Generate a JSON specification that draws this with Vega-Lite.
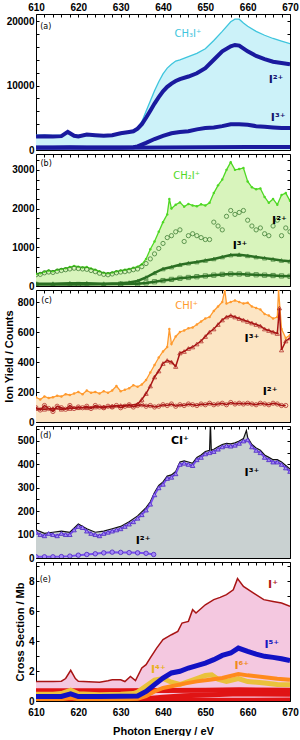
{
"$schema": "https://vega.github.io/schema/vega-lite/v6.json",
"autosize": {"type": "pad"},
"padding": {"left": 3, "top": 2, "right": 0, "bottom": 0},
"background": "#ffffff",
"config": {
  "view": {"stroke": null},
  "axis": {"domainColor": "#000", "tickColor": "#000", "tickSize": -3, "labelPadding": 5, "labelFont": "Liberation Sans", "labelFontWeight": "bold", "labelFontSize": 10, "labelColor": "#000", "titleFont": "Liberation Sans", "titleFontWeight": "bold", "titleFontSize": 11, "titleColor": "#000", "grid": false, "zindex": 1}
},
"datasets": {
  "a": [
    {"s":"CH3I+","x":610,"y":2300},{"s":"CH3I+","x":612,"y":2300},{"s":"CH3I+","x":614,"y":2250},{"s":"CH3I+","x":616,"y":2300},{"s":"CH3I+","x":617.5,"y":2950},{"s":"CH3I+","x":619,"y":2300},{"s":"CH3I+","x":620,"y":2250},{"s":"CH3I+","x":622,"y":2500},{"s":"CH3I+","x":624,"y":2400},{"s":"CH3I+","x":626,"y":2300},{"s":"CH3I+","x":628,"y":2400},{"s":"CH3I+","x":630,"y":2700},{"s":"CH3I+","x":632,"y":2900},{"s":"CH3I+","x":633,"y":3100},{"s":"CH3I+","x":634,"y":3500},{"s":"CH3I+","x":635,"y":4400},{"s":"CH3I+","x":636,"y":6000},{"s":"CH3I+","x":637,"y":7600},{"s":"CH3I+","x":638,"y":9200},{"s":"CH3I+","x":639,"y":10600},{"s":"CH3I+","x":640,"y":11800},{"s":"CH3I+","x":641,"y":12700},{"s":"CH3I+","x":642,"y":13300},{"s":"CH3I+","x":643,"y":13800},{"s":"CH3I+","x":644,"y":14000},{"s":"CH3I+","x":646,"y":14500},{"s":"CH3I+","x":648,"y":15000},{"s":"CH3I+","x":650,"y":15700},{"s":"CH3I+","x":652,"y":17000},{"s":"CH3I+","x":654,"y":18400},{"s":"CH3I+","x":656,"y":19900},{"s":"CH3I+","x":657,"y":20300},{"s":"CH3I+","x":658,"y":20300},{"s":"CH3I+","x":659,"y":19700},{"s":"CH3I+","x":660,"y":19200},{"s":"CH3I+","x":662,"y":18400},{"s":"CH3I+","x":664,"y":17800},{"s":"CH3I+","x":666,"y":17300},{"s":"CH3I+","x":668,"y":16900},{"s":"CH3I+","x":670,"y":16500},
    {"s":"I2+","x":610,"y":2100},{"s":"I2+","x":612,"y":2150},{"s":"I2+","x":614,"y":2100},{"s":"I2+","x":616,"y":2150},{"s":"I2+","x":617.5,"y":2800},{"s":"I2+","x":619,"y":2200},{"s":"I2+","x":620,"y":2100},{"s":"I2+","x":622,"y":2400},{"s":"I2+","x":624,"y":2300},{"s":"I2+","x":626,"y":2200},{"s":"I2+","x":628,"y":2300},{"s":"I2+","x":630,"y":2600},{"s":"I2+","x":632,"y":2800},{"s":"I2+","x":633,"y":2900},{"s":"I2+","x":634,"y":3300},{"s":"I2+","x":635,"y":4000},{"s":"I2+","x":636,"y":5000},{"s":"I2+","x":637,"y":6100},{"s":"I2+","x":638,"y":7200},{"s":"I2+","x":639,"y":8200},{"s":"I2+","x":640,"y":9100},{"s":"I2+","x":641,"y":9800},{"s":"I2+","x":642,"y":10300},{"s":"I2+","x":643,"y":10700},{"s":"I2+","x":644,"y":11000},{"s":"I2+","x":646,"y":11400},{"s":"I2+","x":648,"y":11900},{"s":"I2+","x":650,"y":12700},{"s":"I2+","x":652,"y":14000},{"s":"I2+","x":654,"y":15300},{"s":"I2+","x":656,"y":16100},{"s":"I2+","x":657,"y":16300},{"s":"I2+","x":658,"y":16200},{"s":"I2+","x":660,"y":15300},{"s":"I2+","x":662,"y":14600},{"s":"I2+","x":664,"y":14100},{"s":"I2+","x":666,"y":13700},{"s":"I2+","x":668,"y":13500},{"s":"I2+","x":670,"y":13300},
    {"s":"I3+","x":610,"y":400},{"s":"I3+","x":614,"y":400},{"s":"I3+","x":618,"y":420},{"s":"I3+","x":622,"y":400},{"s":"I3+","x":626,"y":400},{"s":"I3+","x":630,"y":400},{"s":"I3+","x":633,"y":420},{"s":"I3+","x":634,"y":550},{"s":"I3+","x":636,"y":1100},{"s":"I3+","x":638,"y":1700},{"s":"I3+","x":640,"y":2200},{"s":"I3+","x":642,"y":2600},{"s":"I3+","x":644,"y":2800},{"s":"I3+","x":646,"y":2900},{"s":"I3+","x":648,"y":3200},{"s":"I3+","x":650,"y":3400},{"s":"I3+","x":652,"y":3500},{"s":"I3+","x":654,"y":3700},{"s":"I3+","x":656,"y":4000},{"s":"I3+","x":658,"y":4000},{"s":"I3+","x":660,"y":3900},{"s":"I3+","x":662,"y":3700},{"s":"I3+","x":664,"y":3600},{"s":"I3+","x":666,"y":3500},{"s":"I3+","x":668,"y":3400},{"s":"I3+","x":670,"y":3400},
    {"s":"I4+","x":610,"y":350},{"s":"I4+","x":630,"y":350},{"s":"I4+","x":640,"y":380},{"s":"I4+","x":650,"y":420},{"s":"I4+","x":660,"y":450},{"s":"I4+","x":670,"y":450}
  ],
  "b": [
    {"s":"CH2I+","x":610,"y":310},{"s":"CH2I+","x":611,"y":330},{"s":"CH2I+","x":612,"y":370},{"s":"CH2I+","x":613,"y":400},{"s":"CH2I+","x":614,"y":380},{"s":"CH2I+","x":615,"y":420},{"s":"CH2I+","x":616,"y":440},{"s":"CH2I+","x":617,"y":460},{"s":"CH2I+","x":618,"y":490},{"s":"CH2I+","x":619,"y":520},{"s":"CH2I+","x":620,"y":500},{"s":"CH2I+","x":621,"y":480},{"s":"CH2I+","x":622,"y":490},{"s":"CH2I+","x":623,"y":450},{"s":"CH2I+","x":624,"y":420},{"s":"CH2I+","x":625,"y":380},{"s":"CH2I+","x":626,"y":340},{"s":"CH2I+","x":627,"y":330},{"s":"CH2I+","x":628,"y":350},{"s":"CH2I+","x":629,"y":380},{"s":"CH2I+","x":630,"y":400},{"s":"CH2I+","x":631,"y":420},{"s":"CH2I+","x":632,"y":440},{"s":"CH2I+","x":633,"y":470},{"s":"CH2I+","x":634,"y":500},{"s":"CH2I+","x":635,"y":560},{"s":"CH2I+","x":636,"y":700},{"s":"CH2I+","x":637,"y":950},{"s":"CH2I+","x":638,"y":1150},{"s":"CH2I+","x":639,"y":1400},{"s":"CH2I+","x":640,"y":1650},{"s":"CH2I+","x":641,"y":1850},{"s":"CH2I+","x":641.5,"y":2250},{"s":"CH2I+","x":642,"y":2000},{"s":"CH2I+","x":643,"y":2100},{"s":"CH2I+","x":644,"y":2160},{"s":"CH2I+","x":645,"y":2050},{"s":"CH2I+","x":646,"y":2120},{"s":"CH2I+","x":647,"y":2080},{"s":"CH2I+","x":648,"y":2060},{"s":"CH2I+","x":649,"y":2110},{"s":"CH2I+","x":650,"y":2080},{"s":"CH2I+","x":651,"y":2150},{"s":"CH2I+","x":652,"y":2400},{"s":"CH2I+","x":653,"y":2600},{"s":"CH2I+","x":654,"y":2750},{"s":"CH2I+","x":655,"y":3000},{"s":"CH2I+","x":656,"y":3200},{"s":"CH2I+","x":657,"y":3000},{"s":"CH2I+","x":658,"y":3020},{"s":"CH2I+","x":659,"y":3050},{"s":"CH2I+","x":660,"y":2700},{"s":"CH2I+","x":661,"y":2550},{"s":"CH2I+","x":662,"y":2500},{"s":"CH2I+","x":663,"y":2520},{"s":"CH2I+","x":664,"y":2300},{"s":"CH2I+","x":665,"y":2150},{"s":"CH2I+","x":666,"y":2250},{"s":"CH2I+","x":667,"y":2100},{"s":"CH2I+","x":668,"y":2350},{"s":"CH2I+","x":669,"y":2400},{"s":"CH2I+","x":670,"y":2200},
    {"s":"I2+","x":610,"y":290},{"s":"I2+","x":611,"y":300},{"s":"I2+","x":612,"y":340},{"s":"I2+","x":613,"y":360},{"s":"I2+","x":614,"y":350},{"s":"I2+","x":615,"y":380},{"s":"I2+","x":616,"y":400},{"s":"I2+","x":617,"y":420},{"s":"I2+","x":618,"y":440},{"s":"I2+","x":619,"y":460},{"s":"I2+","x":620,"y":450},{"s":"I2+","x":621,"y":440},{"s":"I2+","x":622,"y":430},{"s":"I2+","x":623,"y":400},{"s":"I2+","x":624,"y":370},{"s":"I2+","x":625,"y":330},{"s":"I2+","x":626,"y":300},{"s":"I2+","x":627,"y":290},{"s":"I2+","x":628,"y":310},{"s":"I2+","x":629,"y":340},{"s":"I2+","x":630,"y":360},{"s":"I2+","x":631,"y":370},{"s":"I2+","x":632,"y":390},{"s":"I2+","x":633,"y":420},{"s":"I2+","x":634,"y":440},{"s":"I2+","x":635,"y":500},{"s":"I2+","x":636,"y":580},{"s":"I2+","x":637,"y":700},{"s":"I2+","x":638,"y":830},{"s":"I2+","x":639,"y":970},{"s":"I2+","x":640,"y":1100},{"s":"I2+","x":641,"y":1250},{"s":"I2+","x":642,"y":1300},{"s":"I2+","x":643,"y":1400},{"s":"I2+","x":644,"y":1450},{"s":"I2+","x":645,"y":1150},{"s":"I2+","x":646,"y":1300},{"s":"I2+","x":647,"y":1350},{"s":"I2+","x":648,"y":1300},{"s":"I2+","x":649,"y":1250},{"s":"I2+","x":650,"y":1200},{"s":"I2+","x":651,"y":1200},{"s":"I2+","x":652,"y":1650},{"s":"I2+","x":653,"y":1550},{"s":"I2+","x":654,"y":1450},{"s":"I2+","x":655,"y":1800},{"s":"I2+","x":656,"y":1950},{"s":"I2+","x":657,"y":1850},{"s":"I2+","x":658,"y":1900},{"s":"I2+","x":659,"y":1950},{"s":"I2+","x":660,"y":1700},{"s":"I2+","x":661,"y":1550},{"s":"I2+","x":662,"y":1450},{"s":"I2+","x":663,"y":1500},{"s":"I2+","x":664,"y":1350},{"s":"I2+","x":665,"y":1300},{"s":"I2+","x":666,"y":1550},{"s":"I2+","x":667,"y":1700},{"s":"I2+","x":668,"y":1300},{"s":"I2+","x":669,"y":1500},{"s":"I2+","x":670,"y":1400},
    {"s":"I3+","x":610,"y":60},{"s":"I3+","x":614,"y":60},{"s":"I3+","x":618,"y":70},{"s":"I3+","x":622,"y":70},{"s":"I3+","x":626,"y":60},{"s":"I3+","x":630,"y":70},{"s":"I3+","x":632,"y":90},{"s":"I3+","x":634,"y":130},{"s":"I3+","x":636,"y":220},{"s":"I3+","x":638,"y":340},{"s":"I3+","x":640,"y":440},{"s":"I3+","x":642,"y":490},{"s":"I3+","x":644,"y":550},{"s":"I3+","x":646,"y":590},{"s":"I3+","x":648,"y":620},{"s":"I3+","x":650,"y":660},{"s":"I3+","x":652,"y":700},{"s":"I3+","x":654,"y":750},{"s":"I3+","x":656,"y":800},{"s":"I3+","x":658,"y":810},{"s":"I3+","x":660,"y":780},{"s":"I3+","x":662,"y":750},{"s":"I3+","x":664,"y":720},{"s":"I3+","x":666,"y":690},{"s":"I3+","x":668,"y":660},{"s":"I3+","x":670,"y":640},
    {"s":"I4+","x":610,"y":40},{"s":"I4+","x":620,"y":40},{"s":"I4+","x":630,"y":50},{"s":"I4+","x":634,"y":60},{"s":"I4+","x":636,"y":80},{"s":"I4+","x":638,"y":110},{"s":"I4+","x":640,"y":140},{"s":"I4+","x":642,"y":170},{"s":"I4+","x":644,"y":200},{"s":"I4+","x":646,"y":220},{"s":"I4+","x":648,"y":240},{"s":"I4+","x":650,"y":260},{"s":"I4+","x":652,"y":280},{"s":"I4+","x":654,"y":300},{"s":"I4+","x":656,"y":310},{"s":"I4+","x":658,"y":310},{"s":"I4+","x":660,"y":300},{"s":"I4+","x":662,"y":290},{"s":"I4+","x":664,"y":280},{"s":"I4+","x":666,"y":270},{"s":"I4+","x":668,"y":260},{"s":"I4+","x":670,"y":250}
  ],
  "c": [
    {"s":"CHI+","x":610,"y":165},{"s":"CHI+","x":611,"y":150},{"s":"CHI+","x":612,"y":170},{"s":"CHI+","x":613,"y":160},{"s":"CHI+","x":614,"y":165},{"s":"CHI+","x":615,"y":175},{"s":"CHI+","x":616,"y":170},{"s":"CHI+","x":617,"y":185},{"s":"CHI+","x":618,"y":180},{"s":"CHI+","x":619,"y":190},{"s":"CHI+","x":620,"y":200},{"s":"CHI+","x":621,"y":185},{"s":"CHI+","x":622,"y":210},{"s":"CHI+","x":623,"y":195},{"s":"CHI+","x":624,"y":200},{"s":"CHI+","x":625,"y":190},{"s":"CHI+","x":626,"y":205},{"s":"CHI+","x":627,"y":195},{"s":"CHI+","x":628,"y":210},{"s":"CHI+","x":629,"y":240},{"s":"CHI+","x":630,"y":205},{"s":"CHI+","x":631,"y":215},{"s":"CHI+","x":632,"y":225},{"s":"CHI+","x":633,"y":245},{"s":"CHI+","x":634,"y":235},{"s":"CHI+","x":635,"y":250},{"s":"CHI+","x":636,"y":280},{"s":"CHI+","x":637,"y":330},{"s":"CHI+","x":638,"y":380},{"s":"CHI+","x":639,"y":430},{"s":"CHI+","x":640,"y":470},{"s":"CHI+","x":641,"y":500},{"s":"CHI+","x":641.5,"y":620},{"s":"CHI+","x":642,"y":520},{"s":"CHI+","x":643,"y":570},{"s":"CHI+","x":644,"y":600},{"s":"CHI+","x":645,"y":610},{"s":"CHI+","x":646,"y":625},{"s":"CHI+","x":647,"y":630},{"s":"CHI+","x":648,"y":650},{"s":"CHI+","x":649,"y":670},{"s":"CHI+","x":650,"y":690},{"s":"CHI+","x":651,"y":700},{"s":"CHI+","x":652,"y":740},{"s":"CHI+","x":653,"y":770},{"s":"CHI+","x":654,"y":800},{"s":"CHI+","x":654.6,"y":880},{"s":"CHI+","x":655,"y":790},{"s":"CHI+","x":656,"y":800},{"s":"CHI+","x":657,"y":810},{"s":"CHI+","x":658,"y":800},{"s":"CHI+","x":659,"y":790},{"s":"CHI+","x":660,"y":795},{"s":"CHI+","x":661,"y":770},{"s":"CHI+","x":662,"y":760},{"s":"CHI+","x":663,"y":750},{"s":"CHI+","x":664,"y":720},{"s":"CHI+","x":665,"y":710},{"s":"CHI+","x":666,"y":690},{"s":"CHI+","x":667,"y":700},{"s":"CHI+","x":667.3,"y":880},{"s":"CHI+","x":668,"y":620},{"s":"CHI+","x":669,"y":560},{"s":"CHI+","x":670,"y":580},
    {"s":"I3+","x":610,"y":90},{"s":"I3+","x":612,"y":85},{"s":"I3+","x":614,"y":90},{"s":"I3+","x":616,"y":85},{"s":"I3+","x":618,"y":90},{"s":"I3+","x":620,"y":95},{"s":"I3+","x":622,"y":95},{"s":"I3+","x":624,"y":100},{"s":"I3+","x":626,"y":100},{"s":"I3+","x":628,"y":105},{"s":"I3+","x":630,"y":110},{"s":"I3+","x":632,"y":110},{"s":"I3+","x":634,"y":120},{"s":"I3+","x":635,"y":150},{"s":"I3+","x":636,"y":190},{"s":"I3+","x":637,"y":240},{"s":"I3+","x":638,"y":300},{"s":"I3+","x":639,"y":340},{"s":"I3+","x":640,"y":390},{"s":"I3+","x":641,"y":410},{"s":"I3+","x":642,"y":400},{"s":"I3+","x":643,"y":370},{"s":"I3+","x":644,"y":460},{"s":"I3+","x":645,"y":470},{"s":"I3+","x":646,"y":490},{"s":"I3+","x":647,"y":500},{"s":"I3+","x":648,"y":520},{"s":"I3+","x":649,"y":540},{"s":"I3+","x":650,"y":570},{"s":"I3+","x":651,"y":600},{"s":"I3+","x":652,"y":620},{"s":"I3+","x":653,"y":650},{"s":"I3+","x":654,"y":680},{"s":"I3+","x":655,"y":700},{"s":"I3+","x":656,"y":710},{"s":"I3+","x":657,"y":700},{"s":"I3+","x":658,"y":690},{"s":"I3+","x":659,"y":680},{"s":"I3+","x":660,"y":670},{"s":"I3+","x":661,"y":660},{"s":"I3+","x":662,"y":650},{"s":"I3+","x":663,"y":640},{"s":"I3+","x":664,"y":620},{"s":"I3+","x":665,"y":610},{"s":"I3+","x":666,"y":600},{"s":"I3+","x":667,"y":590},{"s":"I3+","x":667.5,"y":760},{"s":"I3+","x":668,"y":480},{"s":"I3+","x":669,"y":540},{"s":"I3+","x":670,"y":560},
    {"s":"I2+","x":610,"y":95},{"s":"I2+","x":611,"y":80},{"s":"I2+","x":612,"y":110},{"s":"I2+","x":613,"y":90},{"s":"I2+","x":614,"y":70},{"s":"I2+","x":615,"y":105},{"s":"I2+","x":616,"y":95},{"s":"I2+","x":617,"y":85},{"s":"I2+","x":618,"y":110},{"s":"I2+","x":619,"y":90},{"s":"I2+","x":620,"y":100},{"s":"I2+","x":621,"y":95},{"s":"I2+","x":622,"y":105},{"s":"I2+","x":623,"y":90},{"s":"I2+","x":624,"y":110},{"s":"I2+","x":625,"y":100},{"s":"I2+","x":626,"y":95},{"s":"I2+","x":627,"y":105},{"s":"I2+","x":628,"y":100},{"s":"I2+","x":629,"y":110},{"s":"I2+","x":630,"y":95},{"s":"I2+","x":631,"y":105},{"s":"I2+","x":632,"y":115},{"s":"I2+","x":633,"y":100},{"s":"I2+","x":634,"y":110},{"s":"I2+","x":635,"y":115},{"s":"I2+","x":636,"y":105},{"s":"I2+","x":637,"y":110},{"s":"I2+","x":638,"y":100},{"s":"I2+","x":639,"y":105},{"s":"I2+","x":640,"y":115},{"s":"I2+","x":641,"y":110},{"s":"I2+","x":642,"y":120},{"s":"I2+","x":643,"y":105},{"s":"I2+","x":644,"y":115},{"s":"I2+","x":645,"y":110},{"s":"I2+","x":646,"y":120},{"s":"I2+","x":647,"y":115},{"s":"I2+","x":648,"y":110},{"s":"I2+","x":649,"y":120},{"s":"I2+","x":650,"y":115},{"s":"I2+","x":651,"y":125},{"s":"I2+","x":652,"y":115},{"s":"I2+","x":653,"y":120},{"s":"I2+","x":654,"y":125},{"s":"I2+","x":655,"y":115},{"s":"I2+","x":656,"y":130},{"s":"I2+","x":657,"y":120},{"s":"I2+","x":658,"y":125},{"s":"I2+","x":659,"y":120},{"s":"I2+","x":660,"y":125},{"s":"I2+","x":661,"y":120},{"s":"I2+","x":662,"y":115},{"s":"I2+","x":663,"y":125},{"s":"I2+","x":664,"y":120},{"s":"I2+","x":665,"y":115},{"s":"I2+","x":666,"y":125},{"s":"I2+","x":667,"y":120},{"s":"I2+","x":668,"y":110},{"s":"I2+","x":669,"y":110}
  ],
  "d": [
    {"s":"CI+","x":610,"y":120},{"s":"CI+","x":612,"y":105},{"s":"CI+","x":614,"y":110},{"s":"CI+","x":616,"y":115},{"s":"CI+","x":618,"y":110},{"s":"CI+","x":620,"y":145},{"s":"CI+","x":622,"y":125},{"s":"CI+","x":624,"y":110},{"s":"CI+","x":626,"y":115},{"s":"CI+","x":628,"y":125},{"s":"CI+","x":630,"y":135},{"s":"CI+","x":632,"y":155},{"s":"CI+","x":634,"y":180},{"s":"CI+","x":636,"y":215},{"s":"CI+","x":637,"y":240},{"s":"CI+","x":638,"y":280},{"s":"CI+","x":639,"y":310},{"s":"CI+","x":640,"y":325},{"s":"CI+","x":641,"y":350},{"s":"CI+","x":642,"y":355},{"s":"CI+","x":643,"y":370},{"s":"CI+","x":644,"y":410},{"s":"CI+","x":645,"y":415},{"s":"CI+","x":646,"y":410},{"s":"CI+","x":647,"y":405},{"s":"CI+","x":648,"y":430},{"s":"CI+","x":649,"y":440},{"s":"CI+","x":650,"y":455},{"s":"CI+","x":651,"y":460},{"s":"CI+","x":651.2,"y":580},{"s":"CI+","x":651.4,"y":460},{"s":"CI+","x":652,"y":465},{"s":"CI+","x":653,"y":475},{"s":"CI+","x":654,"y":485},{"s":"CI+","x":655,"y":490},{"s":"CI+","x":656,"y":488},{"s":"CI+","x":657,"y":492},{"s":"CI+","x":658,"y":500},{"s":"CI+","x":659,"y":510},{"s":"CI+","x":659.7,"y":545},{"s":"CI+","x":660,"y":515},{"s":"CI+","x":661,"y":485},{"s":"CI+","x":662,"y":470},{"s":"CI+","x":663,"y":460},{"s":"CI+","x":664,"y":440},{"s":"CI+","x":665,"y":430},{"s":"CI+","x":666,"y":420},{"s":"CI+","x":667,"y":420},{"s":"CI+","x":668,"y":410},{"s":"CI+","x":669,"y":395},{"s":"CI+","x":670,"y":380},
    {"s":"I3+","x":610,"y":110},{"s":"I3+","x":611,"y":100},{"s":"I3+","x":612,"y":95},{"s":"I3+","x":613,"y":105},{"s":"I3+","x":614,"y":100},{"s":"I3+","x":615,"y":95},{"s":"I3+","x":616,"y":105},{"s":"I3+","x":617,"y":100},{"s":"I3+","x":618,"y":100},{"s":"I3+","x":619,"y":120},{"s":"I3+","x":620,"y":135},{"s":"I3+","x":621,"y":130},{"s":"I3+","x":622,"y":115},{"s":"I3+","x":623,"y":105},{"s":"I3+","x":624,"y":100},{"s":"I3+","x":625,"y":95},{"s":"I3+","x":626,"y":105},{"s":"I3+","x":627,"y":110},{"s":"I3+","x":628,"y":115},{"s":"I3+","x":629,"y":120},{"s":"I3+","x":630,"y":125},{"s":"I3+","x":631,"y":135},{"s":"I3+","x":632,"y":145},{"s":"I3+","x":633,"y":155},{"s":"I3+","x":634,"y":170},{"s":"I3+","x":635,"y":185},{"s":"I3+","x":636,"y":205},{"s":"I3+","x":637,"y":230},{"s":"I3+","x":638,"y":270},{"s":"I3+","x":639,"y":300},{"s":"I3+","x":640,"y":315},{"s":"I3+","x":641,"y":340},{"s":"I3+","x":642,"y":345},{"s":"I3+","x":643,"y":360},{"s":"I3+","x":644,"y":400},{"s":"I3+","x":645,"y":405},{"s":"I3+","x":646,"y":400},{"s":"I3+","x":647,"y":395},{"s":"I3+","x":648,"y":420},{"s":"I3+","x":649,"y":430},{"s":"I3+","x":650,"y":445},{"s":"I3+","x":651,"y":450},{"s":"I3+","x":652,"y":455},{"s":"I3+","x":653,"y":465},{"s":"I3+","x":654,"y":475},{"s":"I3+","x":655,"y":480},{"s":"I3+","x":656,"y":478},{"s":"I3+","x":657,"y":482},{"s":"I3+","x":658,"y":490},{"s":"I3+","x":659,"y":500},{"s":"I3+","x":660,"y":505},{"s":"I3+","x":661,"y":475},{"s":"I3+","x":662,"y":460},{"s":"I3+","x":663,"y":450},{"s":"I3+","x":664,"y":430},{"s":"I3+","x":665,"y":420},{"s":"I3+","x":666,"y":410},{"s":"I3+","x":667,"y":410},{"s":"I3+","x":668,"y":400},{"s":"I3+","x":669,"y":385},{"s":"I3+","x":670,"y":370},
    {"s":"I2+","x":610,"y":5},{"s":"I2+","x":612,"y":5},{"s":"I2+","x":614,"y":5},{"s":"I2+","x":616,"y":6},{"s":"I2+","x":618,"y":8},{"s":"I2+","x":620,"y":12},{"s":"I2+","x":622,"y":15},{"s":"I2+","x":624,"y":18},{"s":"I2+","x":626,"y":22},{"s":"I2+","x":628,"y":25},{"s":"I2+","x":630,"y":24},{"s":"I2+","x":632,"y":23},{"s":"I2+","x":634,"y":22},{"s":"I2+","x":636,"y":20},{"s":"I2+","x":637.8,"y":15}
  ],
  "e": [
    {"s":"I+","x":610,"y":1.3},{"s":"I+","x":614,"y":1.3},{"s":"I+","x":616,"y":1.32},{"s":"I+","x":617,"y":1.5},{"s":"I+","x":618.2,"y":2.05},{"s":"I+","x":619.3,"y":1.5},{"s":"I+","x":620,"y":1.32},{"s":"I+","x":625,"y":1.25},{"s":"I+","x":627,"y":1.35},{"s":"I+","x":628,"y":1.42},{"s":"I+","x":630,"y":1.42},{"s":"I+","x":631,"y":1.3},{"s":"I+","x":632.3,"y":1.64},{"s":"I+","x":633.5,"y":1.36},{"s":"I+","x":635,"y":2.2},{"s":"I+","x":636,"y":2.42},{"s":"I+","x":637,"y":2.87},{"s":"I+","x":638.5,"y":3.53},{"s":"I+","x":640,"y":4.09},{"s":"I+","x":642,"y":4.42},{"s":"I+","x":643.5,"y":4.64},{"s":"I+","x":644.5,"y":5.2},{"s":"I+","x":646,"y":5.31},{"s":"I+","x":647,"y":6.09},{"s":"I+","x":647.8,"y":5.87},{"s":"I+","x":650,"y":6.42},{"s":"I+","x":652,"y":6.76},{"s":"I+","x":653.5,"y":6.91},{"s":"I+","x":655,"y":7.09},{"s":"I+","x":656.6,"y":7.42},{"s":"I+","x":657.6,"y":8.16},{"s":"I+","x":659,"y":7.64},{"s":"I+","x":661.4,"y":7.2},{"s":"I+","x":663.8,"y":6.76},{"s":"I+","x":666,"y":6.64},{"s":"I+","x":668,"y":6.53},{"s":"I+","x":670,"y":6.31},
    {"s":"I2+","x":610,"y":0.68},{"s":"I2+","x":630,"y":0.68},{"s":"I2+","x":640,"y":0.7},{"s":"I2+","x":650,"y":0.72},{"s":"I2+","x":658,"y":0.75},{"s":"I2+","x":670,"y":0.72},
    {"s":"I3+","x":610,"y":0.08},{"s":"I3+","x":630,"y":0.1},{"s":"I3+","x":636,"y":0.15},{"s":"I3+","x":640,"y":0.25},{"s":"I3+","x":645,"y":0.35},{"s":"I3+","x":650,"y":0.4},{"s":"I3+","x":658,"y":0.48},{"s":"I3+","x":670,"y":0.45},
    {"s":"I7+","x":610,"y":0.04},{"s":"I7+","x":640,"y":0.05},{"s":"I7+","x":670,"y":0.06},
    {"s":"I4+","x":610,"y":0.45},{"s":"I4+","x":614,"y":0.45},{"s":"I4+","x":616,"y":0.5},{"s":"I4+","x":618.2,"y":0.72},{"s":"I4+","x":620,"y":0.48},{"s":"I4+","x":625,"y":0.42},{"s":"I4+","x":630,"y":0.45},{"s":"I4+","x":633,"y":0.5},{"s":"I4+","x":634,"y":0.6},{"s":"I4+","x":636,"y":1.0},{"s":"I4+","x":638,"y":1.4},{"s":"I4+","x":640,"y":1.5},{"s":"I4+","x":642,"y":1.25},{"s":"I4+","x":644,"y":1.1},{"s":"I4+","x":646,"y":1.3},{"s":"I4+","x":648,"y":1.5},{"s":"I4+","x":650,"y":1.7},{"s":"I4+","x":651.5,"y":1.75},{"s":"I4+","x":653,"y":1.45},{"s":"I4+","x":655,"y":1.3},{"s":"I4+","x":657.8,"y":1.5},{"s":"I4+","x":660,"y":1.3},{"s":"I4+","x":664,"y":1.2},{"s":"I4+","x":667,"y":1.1},{"s":"I4+","x":670,"y":1.08},
    {"s":"I6+","x":610,"y":0.12},{"s":"I6+","x":616,"y":0.12},{"s":"I6+","x":618.2,"y":0.2},{"s":"I6+","x":620,"y":0.12},{"s":"I6+","x":630,"y":0.12},{"s":"I6+","x":634,"y":0.15},{"s":"I6+","x":636,"y":0.33},{"s":"I6+","x":638,"y":0.64},{"s":"I6+","x":640,"y":0.87},{"s":"I6+","x":642,"y":0.98},{"s":"I6+","x":645,"y":1.16},{"s":"I6+","x":648,"y":1.31},{"s":"I6+","x":651,"y":1.42},{"s":"I6+","x":654,"y":1.53},{"s":"I6+","x":657.8,"y":1.8},{"s":"I6+","x":660,"y":1.71},{"s":"I6+","x":664,"y":1.58},{"s":"I6+","x":667,"y":1.49},{"s":"I6+","x":670,"y":1.42},
    {"s":"I5+","x":610,"y":0.3},{"s":"I5+","x":616,"y":0.3},{"s":"I5+","x":618.2,"y":0.48},{"s":"I5+","x":620,"y":0.3},{"s":"I5+","x":625,"y":0.3},{"s":"I5+","x":630,"y":0.32},{"s":"I5+","x":634,"y":0.33},{"s":"I5+","x":636,"y":0.64},{"s":"I5+","x":638,"y":1.09},{"s":"I5+","x":640,"y":1.53},{"s":"I5+","x":642,"y":1.87},{"s":"I5+","x":644,"y":1.98},{"s":"I5+","x":646,"y":2.2},{"s":"I5+","x":648,"y":2.36},{"s":"I5+","x":650,"y":2.53},{"s":"I5+","x":652,"y":2.76},{"s":"I5+","x":654,"y":3.04},{"s":"I5+","x":656,"y":3.2},{"s":"I5+","x":657.8,"y":3.53},{"s":"I5+","x":660,"y":3.31},{"s":"I5+","x":662,"y":3.13},{"s":"I5+","x":664,"y":2.98},{"s":"I5+","x":666,"y":2.91},{"s":"I5+","x":668,"y":2.82},{"s":"I5+","x":670,"y":2.69}
  ],
  "la": [{"k":"tag","t":"(a)","x":612.3,"y":19100},{"k":"sp","t":"CH₃I⁺","x":645.9,"y":18000},{"k":"ion","t":"I²⁺","x":666.7,"y":10900},{"k":"ion","t":"I³⁺","x":667.2,"y":5000}],
  "lb": [{"k":"tag","t":"(b)","x":612.4,"y":3150},{"k":"sp","t":"CH₂I⁺","x":645.6,"y":2850},{"k":"ion","t":"I²⁺","x":667.5,"y":1690},{"k":"ion","t":"I³⁺","x":658.2,"y":1040}],
  "lc": [{"k":"tag","t":"(c)","x":612.5,"y":805},{"k":"sp","t":"CHI⁺","x":645.6,"y":773},{"k":"ion","t":"I³⁺","x":661,"y":551},{"k":"ion","t":"I²⁺","x":665.3,"y":200}],
  "ld": [{"k":"tag","t":"(d)","x":612.3,"y":520},{"k":"ion","t":"CI⁺","x":644,"y":498},{"k":"ion","t":"I³⁺","x":661,"y":363},{"k":"ion","t":"I²⁺","x":635.3,"y":71}],
  "le": [{"k":"tag","s":"tag","t":"(e)","x":612.2,"y":8.05},{"k":"ion","s":"I+","t":"I⁺","x":666,"y":7.75},{"k":"ion","s":"I5+","t":"I⁵⁺","x":665.7,"y":3.75},{"k":"ion","s":"I6+","t":"I⁶⁺","x":658.6,"y":2.31},{"k":"ion","s":"I4+","t":"I⁴⁺","x":638.9,"y":2.09}]
},
"spacing": 4,
"bounds": "flush",
"vconcat": [
  {
    "width": 254, "height": 136,
    "encoding": {
      "x": {"field": "x", "type": "quantitative", "scale": {"domain": [610, 670], "nice": false, "zero": false}, "axis": null},
      "y": {"field": "y", "type": "quantitative", "scale": {"domain": [0, 21100], "nice": false}, "axis": null}
    },
    "layer": [
      {"data": {"name": "a"}, "transform": [{"filter": "datum.s === 'CH3I+'"}], "mark": {"type": "area", "color": "#ccf2f9", "clip": true},
       "encoding": {
         "x": {"field": "x", "type": "quantitative", "scale": {"domain": [610, 670], "nice": false, "zero": false}, "axis": {"orient": "bottom", "values": [610,612,614,616,618,620,622,624,626,628,630,632,634,636,638,640,642,644,646,648,650,652,654,656,658,660,662,664,666,668,670], "labels": false, "title": null}},
         "y": {"field": "y", "type": "quantitative", "scale": {"domain": [0, 21100], "nice": false}, "axis": {"orient": "left", "values": [0,2000,4000,6000,8000,10000,12000,14000,16000,18000,20000], "format": "d", "labelExpr": "datum.value % 10000 === 0 ? datum.label : ''", "labelOverlap": false, "title": null}}
       }},
      {"data": {"name": "a"}, "transform": [{"filter": "datum.s === 'CH3I+'"}], "mark": {"type": "line", "color": "#3ec5dd", "strokeWidth": 1.3, "clip": true}},
      {"data": {"name": "a"}, "transform": [{"filter": "datum.s !== 'CH3I+'"}], "mark": {"type": "line", "color": "#1a1a9e", "strokeWidth": 4, "clip": true}, "encoding": {"detail": {"field": "s"}}},
      {"data": {"name": "la"}, "transform": [{"filter": "datum.k === 'sp'"}], "mark": {"type": "text", "font": "DejaVu Sans", "fontSize": 10, "color": "#3ec5dd"}, "encoding": {"text": {"field": "t"}}},
      {"data": {"name": "la"}, "transform": [{"filter": "datum.k === 'ion'"}], "mark": {"type": "text", "font": "DejaVu Sans", "fontSize": 11, "fontWeight": "bold", "color": "#141470"}, "encoding": {"text": {"field": "t"}}},
      {"data": {"name": "la"}, "transform": [{"filter": "datum.k === 'tag'"}], "mark": {"type": "text", "font": "DejaVu Sans", "fontSize": 8, "color": "#000"},
       "encoding": {
         "text": {"field": "t"},
         "x": {"field": "x", "type": "quantitative", "scale": {"domain": [610, 670], "nice": false, "zero": false}, "axis": {"orient": "top", "values": [610,612,614,616,618,620,622,624,626,628,630,632,634,636,638,640,642,644,646,648,650,652,654,656,658,660,662,664,666,668,670], "format": "d", "labelExpr": "datum.value % 10 === 0 ? datum.label : ''", "labelFlush": false, "labelOverlap": false, "title": null}},
         "y": {"field": "y", "type": "quantitative", "scale": {"domain": [0, 21100], "nice": false}, "axis": {"orient": "right", "values": [0,2000,4000,6000,8000,10000,12000,14000,16000,18000,20000], "labels": false, "title": null}}
       }}
    ],
    "resolve": {"axis": {"x": "independent", "y": "independent"}}
  },
  {
    "width": 254, "height": 132,
    "encoding": {
      "x": {"field": "x", "type": "quantitative", "scale": {"domain": [610, 670], "nice": false, "zero": false}, "axis": null},
      "y": {"field": "y", "type": "quantitative", "scale": {"domain": [0, 3410], "nice": false}, "axis": null}
    },
    "layer": [
      {"data": {"name": "b"}, "transform": [{"filter": "datum.s === 'CH2I+'"}], "mark": {"type": "area", "color": "#d8f4bc", "clip": true},
       "encoding": {
         "x": {"field": "x", "type": "quantitative", "scale": {"domain": [610, 670], "nice": false, "zero": false}, "axis": {"orient": "bottom", "values": [610,612,614,616,618,620,622,624,626,628,630,632,634,636,638,640,642,644,646,648,650,652,654,656,658,660,662,664,666,668,670], "labels": false, "title": null}},
         "y": {"field": "y", "type": "quantitative", "scale": {"domain": [0, 3410], "nice": false}, "axis": {"orient": "left", "values": [0,250,500,750,1000,1250,1500,1750,2000,2250,2500,2750,3000,3250], "format": "d", "labelExpr": "datum.value % 1000 === 0 ? datum.label : ''", "labelOverlap": false, "title": null}}
       }},
      {"data": {"name": "b"}, "transform": [{"filter": "datum.s === 'CH2I+'"}], "mark": {"type": "line", "color": "#4fd824", "strokeWidth": 1.3, "clip": true, "point": {"filled": true, "size": 6, "color": "#4fd824"}}},
      {"data": {"name": "b"}, "transform": [{"filter": "datum.s === 'I3+' || datum.s === 'I4+'"}], "mark": {"type": "line", "color": "#2a6e22", "strokeWidth": 2.5, "clip": true}, "encoding": {"detail": {"field": "s"}}},
      {"data": {"name": "b"}, "transform": [{"filter": "datum.s !== 'CH2I+'"}], "mark": {"type": "point", "filled": false, "color": "#2a6e22", "strokeWidth": 1, "size": 18, "clip": true},
       "encoding": {"shape": {"field": "s", "type": "nominal", "scale": {"domain": ["I2+", "I3+", "I4+"], "range": ["circle", "triangle-up", "square"]}, "legend": null}}},
      {"data": {"name": "lb"}, "transform": [{"filter": "datum.k === 'sp'"}], "mark": {"type": "text", "font": "DejaVu Sans", "fontSize": 10, "color": "#4fd824"}, "encoding": {"text": {"field": "t"}}},
      {"data": {"name": "lb"}, "transform": [{"filter": "datum.k === 'ion'"}], "mark": {"type": "text", "font": "DejaVu Sans", "fontSize": 11, "fontWeight": "bold", "color": "#000"}, "encoding": {"text": {"field": "t"}}},
      {"data": {"name": "lb"}, "transform": [{"filter": "datum.k === 'tag'"}], "mark": {"type": "text", "font": "DejaVu Sans", "fontSize": 8, "color": "#000"},
       "encoding": {
         "text": {"field": "t"},
         "x": {"field": "x", "type": "quantitative", "scale": {"domain": [610, 670], "nice": false, "zero": false}, "axis": {"orient": "top", "values": [610,612,614,616,618,620,622,624,626,628,630,632,634,636,638,640,642,644,646,648,650,652,654,656,658,660,662,664,666,668,670], "labels": false, "title": null}},
         "y": {"field": "y", "type": "quantitative", "scale": {"domain": [0, 3410], "nice": false}, "axis": {"orient": "right", "values": [0,250,500,750,1000,1250,1500,1750,2000,2250,2500,2750,3000,3250], "labels": false, "title": null}}
       }}
    ],
    "resolve": {"axis": {"x": "independent", "y": "independent"}}
  },
  {
    "width": 254, "height": 132,
    "encoding": {
      "x": {"field": "x", "type": "quantitative", "scale": {"domain": [610, 670], "nice": false, "zero": false}, "axis": null},
      "y": {"field": "y", "type": "quantitative", "scale": {"domain": [0, 880], "nice": false}, "axis": null}
    },
    "layer": [
      {"data": {"name": "c"}, "transform": [{"filter": "datum.s === 'CHI+'"}], "mark": {"type": "area", "color": "#fce5c4", "clip": true},
       "encoding": {
         "x": {"field": "x", "type": "quantitative", "scale": {"domain": [610, 670], "nice": false, "zero": false}, "axis": {"orient": "bottom", "values": [610,612,614,616,618,620,622,624,626,628,630,632,634,636,638,640,642,644,646,648,650,652,654,656,658,660,662,664,666,668,670], "labels": false, "title": null}},
         "y": {"field": "y", "type": "quantitative", "scale": {"domain": [0, 880], "nice": false}, "axis": {"orient": "left", "values": [0,100,200,300,400,500,600,700,800], "format": "d", "labelExpr": "datum.value % 200 === 0 ? datum.label : ''", "labelOverlap": false, "title": "Ion Yield / Counts", "titlePadding": 3}}
       }},
      {"data": {"name": "c"}, "transform": [{"filter": "datum.s === 'CHI+'"}], "mark": {"type": "line", "color": "#ff9a2e", "strokeWidth": 1.3, "clip": true, "point": {"filled": true, "size": 6, "color": "#ff9a2e"}}},
      {"data": {"name": "c"}, "transform": [{"filter": "datum.s !== 'CHI+'"}], "mark": {"type": "line", "color": "#a81414", "strokeWidth": 1.5, "clip": true}, "encoding": {"detail": {"field": "s"}}},
      {"data": {"name": "c"}, "transform": [{"filter": "datum.s !== 'CHI+'"}], "mark": {"type": "point", "filled": false, "color": "#a81414", "strokeWidth": 1, "size": 18, "clip": true},
       "encoding": {"shape": {"field": "s", "type": "nominal", "scale": {"domain": ["I2+", "I3+"], "range": ["circle", "triangle-up"]}, "legend": null}}},
      {"data": {"name": "lc"}, "transform": [{"filter": "datum.k === 'sp'"}], "mark": {"type": "text", "font": "DejaVu Sans", "fontSize": 10, "color": "#ff9a2e"}, "encoding": {"text": {"field": "t"}}},
      {"data": {"name": "lc"}, "transform": [{"filter": "datum.k === 'ion'"}], "mark": {"type": "text", "font": "DejaVu Sans", "fontSize": 11, "fontWeight": "bold", "color": "#000"}, "encoding": {"text": {"field": "t"}}},
      {"data": {"name": "lc"}, "transform": [{"filter": "datum.k === 'tag'"}], "mark": {"type": "text", "font": "DejaVu Sans", "fontSize": 8, "color": "#000"},
       "encoding": {
         "text": {"field": "t"},
         "x": {"field": "x", "type": "quantitative", "scale": {"domain": [610, 670], "nice": false, "zero": false}, "axis": {"orient": "top", "values": [610,612,614,616,618,620,622,624,626,628,630,632,634,636,638,640,642,644,646,648,650,652,654,656,658,660,662,664,666,668,670], "labels": false, "title": null}},
         "y": {"field": "y", "type": "quantitative", "scale": {"domain": [0, 880], "nice": false}, "axis": {"orient": "right", "values": [0,100,200,300,400,500,600,700,800], "labels": false, "title": null}}
       }}
    ],
    "resolve": {"axis": {"x": "independent", "y": "independent"}}
  },
  {
    "width": 254, "height": 132,
    "encoding": {
      "x": {"field": "x", "type": "quantitative", "scale": {"domain": [610, 670], "nice": false, "zero": false}, "axis": null},
      "y": {"field": "y", "type": "quantitative", "scale": {"domain": [0, 564], "nice": false}, "axis": null}
    },
    "layer": [
      {"data": {"name": "d"}, "transform": [{"filter": "datum.s === 'CI+'"}], "mark": {"type": "area", "color": "#c9d1d1", "clip": true},
       "encoding": {
         "x": {"field": "x", "type": "quantitative", "scale": {"domain": [610, 670], "nice": false, "zero": false}, "axis": {"orient": "bottom", "values": [610,612,614,616,618,620,622,624,626,628,630,632,634,636,638,640,642,644,646,648,650,652,654,656,658,660,662,664,666,668,670], "labels": false, "title": null}},
         "y": {"field": "y", "type": "quantitative", "scale": {"domain": [0, 564], "nice": false}, "axis": {"orient": "left", "values": [0,50,100,150,200,250,300,350,400,450,500,550], "format": "d", "labelExpr": "datum.value % 100 === 0 ? datum.label : ''", "labelOverlap": false, "title": null}}
       }},
      {"data": {"name": "d"}, "transform": [{"filter": "datum.s === 'CI+'"}], "mark": {"type": "line", "color": "#111111", "strokeWidth": 1.2, "clip": true}},
      {"data": {"name": "d"}, "transform": [{"filter": "datum.s !== 'CI+'"}], "mark": {"type": "line", "color": "#7a50f0", "strokeWidth": 2, "clip": true}, "encoding": {"detail": {"field": "s"}}},
      {"data": {"name": "d"}, "transform": [{"filter": "datum.s !== 'CI+'"}], "mark": {"type": "point", "filled": true, "fill": "#a68af8", "stroke": "#4a26c0", "strokeWidth": 0.8, "size": 20, "opacity": 1, "clip": true},
       "encoding": {"shape": {"field": "s", "type": "nominal", "scale": {"domain": ["I2+", "I3+"], "range": ["circle", "triangle-up"]}, "legend": null}}},
      {"data": {"name": "ld"}, "transform": [{"filter": "datum.k === 'ion'"}], "mark": {"type": "text", "font": "DejaVu Sans", "fontSize": 11, "fontWeight": "bold", "color": "#000"}, "encoding": {"text": {"field": "t"}}},
      {"data": {"name": "ld"}, "transform": [{"filter": "datum.k === 'tag'"}], "mark": {"type": "text", "font": "DejaVu Sans", "fontSize": 8, "color": "#000"},
       "encoding": {
         "text": {"field": "t"},
         "x": {"field": "x", "type": "quantitative", "scale": {"domain": [610, 670], "nice": false, "zero": false}, "axis": {"orient": "top", "values": [610,612,614,616,618,620,622,624,626,628,630,632,634,636,638,640,642,644,646,648,650,652,654,656,658,660,662,664,666,668,670], "labels": false, "title": null}},
         "y": {"field": "y", "type": "quantitative", "scale": {"domain": [0, 564], "nice": false}, "axis": {"orient": "right", "values": [0,50,100,150,200,250,300,350,400,450,500,550], "labels": false, "title": null}}
       }}
    ],
    "resolve": {"axis": {"x": "independent", "y": "independent"}}
  },
  {
    "width": 254, "height": 139,
    "encoding": {
      "x": {"field": "x", "type": "quantitative", "scale": {"domain": [610, 670], "nice": false, "zero": false}, "axis": null},
      "y": {"field": "y", "type": "quantitative", "scale": {"domain": [0, 9.27], "nice": false}, "axis": null}
    },
    "layer": [
      {"data": {"name": "e"}, "transform": [{"filter": "datum.s === 'I+'"}], "mark": {"type": "area", "color": "#f4c8e0", "clip": true},
       "encoding": {
         "x": {"field": "x", "type": "quantitative", "scale": {"domain": [610, 670], "nice": false, "zero": false}, "axis": {"orient": "bottom", "values": [610,612,614,616,618,620,622,624,626,628,630,632,634,636,638,640,642,644,646,648,650,652,654,656,658,660,662,664,666,668,670], "format": "d", "labelExpr": "datum.value % 10 === 0 ? datum.label : ''", "labelFlush": false, "labelOverlap": false, "labelPadding": 9, "title": "Photon Energy / eV", "titlePadding": 8}},
         "y": {"field": "y", "type": "quantitative", "scale": {"domain": [0, 9.27], "nice": false}, "axis": {"orient": "left", "values": [0,1,2,3,4,5,6,7,8,9], "format": "d", "labelExpr": "datum.value % 2 === 0 ? datum.label : ''", "labelOverlap": false, "title": "Cross Section / Mb", "titlePadding": 3}}
       }},
      {"data": {"name": "e"}, "transform": [{"filter": "datum.s === 'I2+' || datum.s === 'I3+' || datum.s === 'I7+'"}], "mark": {"type": "line", "color": "#e01414", "strokeWidth": 5, "clip": true}, "encoding": {"detail": {"field": "s"}}},
      {"data": {"name": "e"}, "transform": [{"filter": "datum.s === 'I4+'"}], "mark": {"type": "line", "color": "#eac23c", "strokeWidth": 5, "clip": true}},
      {"data": {"name": "e"}, "transform": [{"filter": "datum.s === 'I6+'"}], "mark": {"type": "line", "color": "#ff8a1c", "strokeWidth": 4, "clip": true}},
      {"data": {"name": "e"}, "transform": [{"filter": "datum.s === 'I5+'"}], "mark": {"type": "line", "color": "#1212c4", "strokeWidth": 5, "clip": true}},
      {"data": {"name": "e"}, "transform": [{"filter": "datum.s === 'I+'"}], "mark": {"type": "line", "color": "#a81414", "strokeWidth": 1.5, "clip": true}},
      {"data": {"name": "le"}, "transform": [{"filter": "datum.k === 'ion'"}], "mark": {"type": "text", "font": "DejaVu Sans", "fontSize": 11, "fontWeight": "bold"},
       "encoding": {"text": {"field": "t"}, "color": {"field": "s", "type": "nominal", "scale": {"domain": ["I+", "I4+", "I5+", "I6+"], "range": ["#b01818", "#e8b020", "#1818c0", "#f08a1a"]}, "legend": null}}},
      {"data": {"name": "le"}, "transform": [{"filter": "datum.k === 'tag'"}], "mark": {"type": "text", "font": "DejaVu Sans", "fontSize": 8, "color": "#000"},
       "encoding": {
         "text": {"field": "t"},
         "x": {"field": "x", "type": "quantitative", "scale": {"domain": [610, 670], "nice": false, "zero": false}, "axis": {"orient": "top", "values": [610,612,614,616,618,620,622,624,626,628,630,632,634,636,638,640,642,644,646,648,650,652,654,656,658,660,662,664,666,668,670], "labels": false, "title": null}},
         "y": {"field": "y", "type": "quantitative", "scale": {"domain": [0, 9.27], "nice": false}, "axis": {"orient": "right", "values": [0,1,2,3,4,5,6,7,8,9], "labels": false, "title": null}}
       }}
    ],
    "resolve": {"axis": {"x": "independent", "y": "independent"}}
  }
]
}
